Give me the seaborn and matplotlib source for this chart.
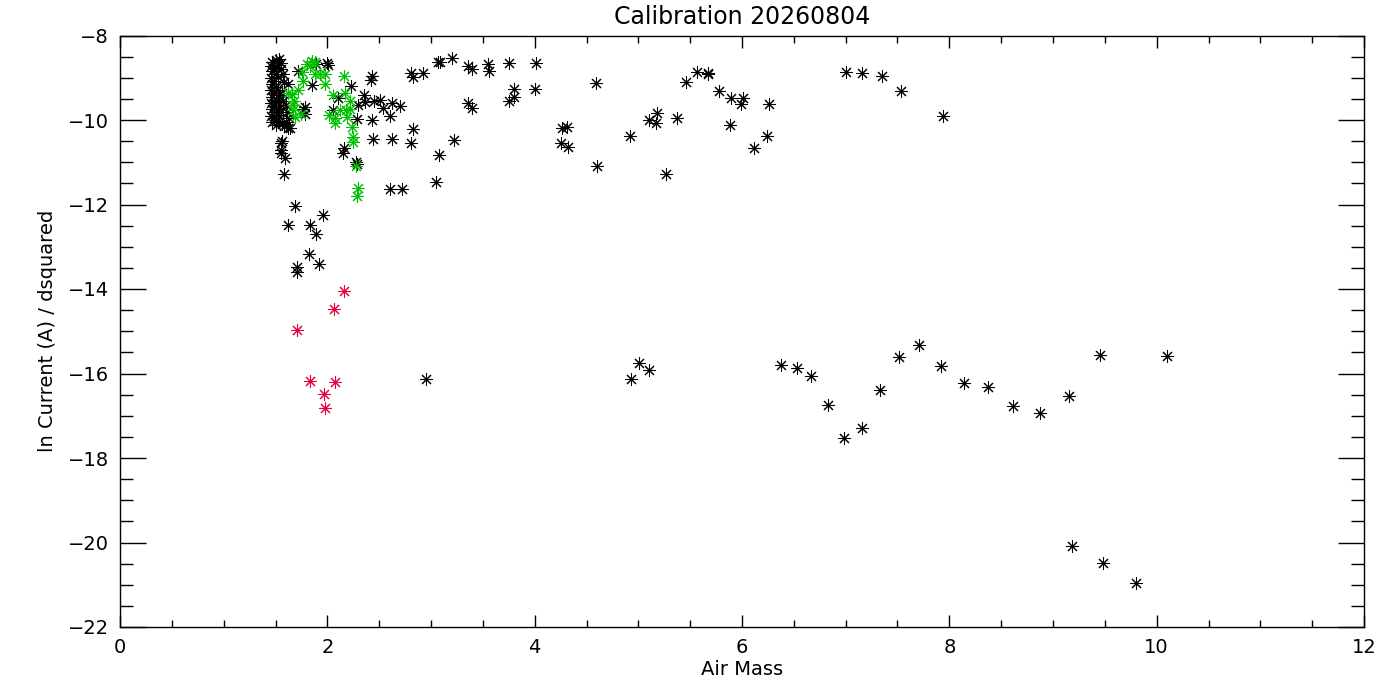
import matplotlib
matplotlib.use("Agg")
import matplotlib.pyplot as plt
import seaborn as sns
import pandas as pd
from matplotlib.ticker import MultipleLocator

# black points (main set)
black_x = [
    1.47, 1.50, 1.53, 1.46, 1.49, 1.52, 1.55, 1.47, 1.50, 1.46, 1.49, 1.52, 1.47, 1.50,
    1.46, 1.49, 1.52, 1.47, 1.50, 1.53, 1.46, 1.49, 1.52, 1.47, 1.50, 1.53, 1.46, 1.49,
    1.52, 1.47, 1.50, 1.53, 1.56, 1.58, 1.62, 1.55, 1.57, 1.56, 1.58, 1.57, 1.60, 1.63,
    1.60, 1.55,
    1.62, 1.61, 1.64, 1.78, 1.78, 1.56, 1.55, 1.55, 1.55, 1.59, 1.58, 1.72, 1.89, 2.00,
    1.85, 1.77,
    2.01, 2.23, 2.10, 2.35, 2.36, 2.30, 2.45, 2.51, 2.54, 2.62, 2.70, 2.60, 2.43, 2.29,
    2.05, 2.42, 2.43, 2.81, 2.83, 2.92, 2.83, 2.44, 2.62, 2.81, 2.16, 2.15, 2.28, 2.29,
    2.60, 2.72,
    1.69, 1.96, 1.62, 1.83, 1.89, 1.82, 1.92, 1.71, 1.71,
    3.07, 3.09, 3.20, 3.36, 3.40, 3.55, 3.56, 3.75, 4.01, 3.80, 3.80, 3.75, 4.00, 3.36,
    3.40, 4.59, 4.26, 4.31, 4.25, 4.32, 3.22, 3.08, 3.05, 4.60, 4.92, 5.10, 5.18, 5.17,
    5.37, 5.27, 2.95,
    5.46, 5.57, 5.67, 5.67, 5.78, 5.89, 6.01, 5.99, 5.88, 6.26, 6.24, 6.12, 7.00, 7.16,
    7.35, 7.53, 7.94,
    5.01, 5.10, 4.93, 6.38, 6.53, 6.67, 6.83, 6.98, 7.16, 7.33, 7.51,
    7.71, 7.92, 8.14, 8.37, 8.61, 8.87, 9.15, 9.45, 9.18, 9.48, 9.80, 10.10,
]
black_y = [
    -8.62, -8.58, -8.55, -8.72, -8.78, -8.70, -8.65, -8.85, -8.92, -9.00, -9.08, -8.98, -9.15, -9.22,
    -9.30, -9.36, -9.28, -9.45, -9.52, -9.42, -9.60, -9.66, -9.58, -9.75, -9.82, -9.72, -9.90, -9.96,
    -9.88, -10.05, -10.12, -10.02, -10.10, -10.15, -10.18, -9.80, -9.55, -9.35, -9.10, -8.90, -9.65, -9.95,
    -10.05, -8.80,
    -9.14, -9.80, -10.20, -9.70, -9.85, -10.50, -10.55, -10.72, -10.77, -10.90, -11.27, -8.84, -8.68, -8.65,
    -9.18, -9.73,
    -8.70, -9.20, -9.48, -9.40, -9.58, -9.65, -9.55, -9.52, -9.72, -9.60, -9.68, -9.90, -10.00, -9.97,
    -9.76, -9.05, -8.95, -8.88, -8.98, -8.88, -10.22, -10.45, -10.45, -10.55, -10.67, -10.77, -11.00, -11.05,
    -11.63, -11.63,
    -12.03, -12.26, -12.48, -12.48, -12.71, -13.16, -13.42, -13.47, -13.59,
    -8.62, -8.62, -8.54, -8.73, -8.80, -8.68, -8.83, -8.64, -8.64, -9.26, -9.46, -9.56, -9.26, -9.60,
    -9.71, -9.12, -10.20, -10.17, -10.55, -10.65, -10.47, -10.84, -11.46, -11.10, -10.37, -9.99, -9.84, -10.07,
    -9.95, -11.28, -16.13,
    -9.10, -8.87, -8.88, -8.92, -9.31, -9.48, -9.48, -9.62, -10.12, -9.62, -10.38, -10.66, -8.87, -8.89,
    -8.97, -9.31, -9.91,
    -15.74, -15.92, -16.13, -15.79, -15.87, -16.06, -16.75, -17.52, -17.28, -16.39, -15.60,
    -15.32, -15.83, -16.22, -16.31, -16.77, -16.93, -16.53, -15.57, -20.09, -20.49, -20.96, -15.58,
]

green_x = [
    1.80, 1.83, 1.76, 1.88, 1.93, 1.98, 1.77, 1.98, 2.16, 1.62, 1.66, 1.72, 1.68, 1.67,
    1.67, 1.69, 1.75, 2.05, 2.17, 2.22, 2.12, 2.18, 2.22, 2.02, 2.07, 2.07, 2.19, 2.24,
    2.25, 2.25, 2.28, 2.30, 2.29, 1.88, 1.85,
]
green_y = [
    -8.67, -8.72, -8.87, -8.90, -8.92, -8.92, -9.07, -9.14, -8.95, -9.35, -9.38, -9.30, -9.55, -9.65,
    -9.77, -9.93, -9.85, -9.40, -9.35, -9.55, -9.77, -9.77, -9.75, -9.88, -9.95, -10.08, -9.92, -10.17,
    -10.40, -10.52, -11.10, -11.60, -11.80, -8.62, -8.60,
]

red_x = [2.16, 2.06, 1.71, 1.83, 2.07, 1.97, 1.98]
red_y = [-14.04, -14.47, -14.98, -16.17, -16.20, -16.48, -16.82]

sns.set_style("white")
plt.rcParams['font.family'] = ['DejaVu Sans']
plt.rcParams['text.color'] = 'black'
plt.rcParams['axes.labelcolor'] = 'black'
plt.rcParams['xtick.color'] = 'black'
plt.rcParams['ytick.color'] = 'black'

fig = plt.figure(figsize=(14, 7), dpi=100)
ax = fig.add_axes([120 / 1400, 1 - 627 / 700, 1244 / 1400, 591.5 / 700])

star = (8, 2, 0)
for xs, ys, col in [(black_x, black_y, 'black'),
                    (green_x, green_y, '#00c000'),
                    (red_x, red_y, '#e8003c')]:
    df = pd.DataFrame({'x': xs, 'y': ys})
    sns.scatterplot(data=df, x='x', y='y', marker=star, s=75, color=col,
                    edgecolor=col, linewidth=0.75, ax=ax)

ax.set_xlim(0, 12)
ax.set_ylim(-22, -8)
ax.xaxis.set_major_locator(MultipleLocator(2))
ax.xaxis.set_minor_locator(MultipleLocator(0.5))
ax.yaxis.set_major_locator(MultipleLocator(2))
ax.yaxis.set_minor_locator(MultipleLocator(0.5))
ax.tick_params(axis='x', which='major', direction='in', length=8.6, width=1,
               top=True, bottom=True, labelsize=14, pad=8, colors='black')
ax.tick_params(axis='x', which='minor', direction='in', length=5, width=1,
               top=True, bottom=True, colors='black')
ax.tick_params(axis='y', which='major', direction='in', length=18.7, width=1,
               left=True, right=True, labelsize=14, pad=8, colors='black')
ax.tick_params(axis='y', which='minor', direction='in', length=9.4, width=1,
               left=True, right=True, colors='black')
for sp in ax.spines.values():
    sp.set_color('black')
    sp.set_linewidth(1)

ax.set_xlabel('Air Mass', fontsize=14, labelpad=2, color='black')
ax.set_ylabel('ln Current (A) / dsquared', fontsize=14, labelpad=8, color='black')
ax.set_title('Calibration 20260804', fontsize=17, pad=8, color='black')

fig.savefig('out.png', dpi=100, facecolor='white')
